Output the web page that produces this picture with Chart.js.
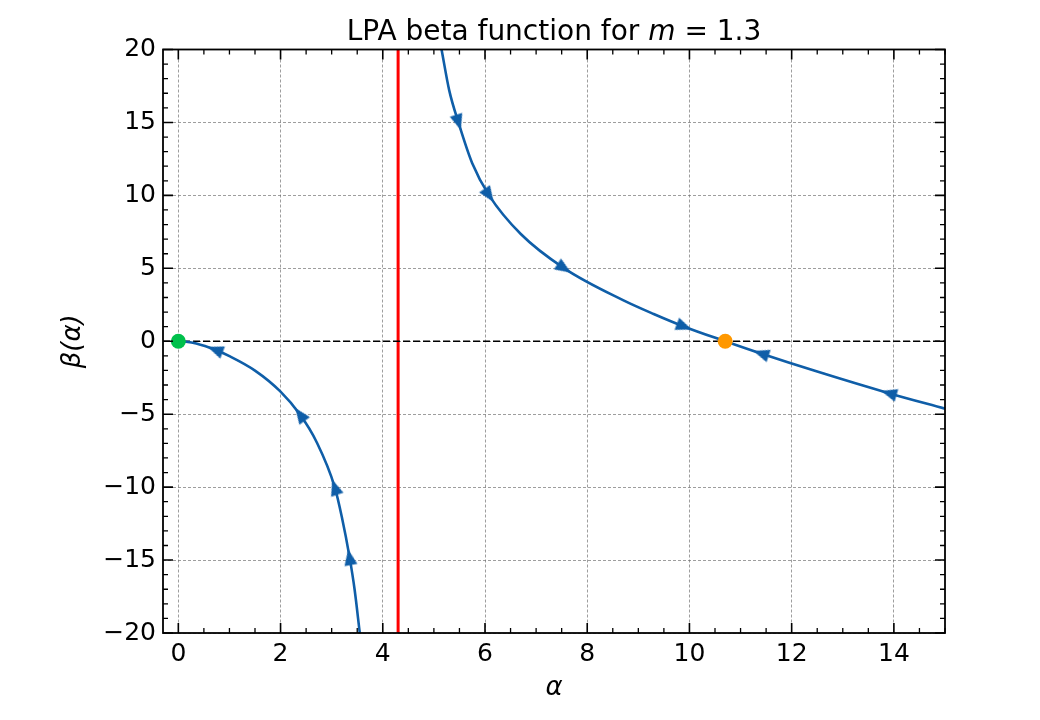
<!DOCTYPE html>
<html>
<head>
<meta charset="utf-8">
<script src="https://cdn.jsdelivr.net/npm/chart.js@4.4.0/dist/chart.umd.min.js"></script>
<style>
html, body { margin: 0; padding: 0; background: #fff; }
#wrap { width: 1040px; height: 720px; }
</style>
</head>
<body>
<div id="wrap"><canvas id="betaChart" width="1040" height="720"></canvas></div>
<script>
// axis ranges and tick labels
const xMin = -0.3, xMax = 15;
const yMin = -20, yMax = 20;
const xTicks = [0, 2, 4, 6, 8, 10, 12, 14];
const yTicks = [-20, -15, -10, -5, 0, 5, 10, 15, 20];

// branch below the pole (flows back to the Gaussian point)
const leftAlpha = [0, 0.15, 0.35, 0.72, 1.0, 1.5, 1.99, 2.38, 2.7, 3.06, 3.2, 3.35, 3.45, 3.55];
const leftBeta = [0, -0.03, -0.15, -0.58, -1.02, -2.01, -3.42, -5.02, -6.87, -10.0, -12.07, -14.8, -17.05, -20];

// branch above the pole (flows to the non trivial fixed point)
const rightAlpha = [5.15, 5.3, 5.48, 5.75, 6.08, 6.7, 7.55, 8.7, 9.3, 9.9, 10.7, 11.4, 12.5, 13.9, 15];
const rightBeta = [20, 17.2, 15, 12.2, 10, 7.35, 5, 2.82, 1.87, 1.0, 0, -0.84, -2.08, -3.56, -4.62];

// pole and fixed points
const poleAlpha = 4.3;
const gaussAlpha = 0, gaussBeta = 0;
const fixedAlpha = 10.7, fixedBeta = 0;

// flow arrows, sitting on curve points
const arrowAlpha = [0.72, 2.38, 3.06, 3.35, 5.48, 6.08, 7.55, 9.9, 11.4, 13.9];
const arrowBeta = [-0.58, -5.02, -10.0, -14.8, 15, 10, 5, 1.0, -0.84, -3.56];

const blue = '#0f5ea8';
const FONT = "'DejaVu Sans', sans-serif";

function toXY(xs, ys) {
    return xs.map(function(v, i) { return {x: v, y: ys[i]}; });
}

// arrow head drawn once on a small canvas, tip pointing up
function makeArrowHead() {
    const c = document.createElement('canvas');
    c.width = 14;
    c.height = 17;
    const g = c.getContext('2d');
    g.fillStyle = blue;
    g.beginPath();
    g.moveTo(7, 0.5);
    g.lineTo(13.5, 16.5);
    g.lineTo(0.5, 16.5);
    g.closePath();
    g.fill();
    return c;
}
const arrowHead = makeArrowHead();

// turn each arrow along the curve, in the direction of the flow
function arrowRotation(ctx) {
    const chart = ctx.chart;
    const xs = chart.scales.x, ys = chart.scales.y;
    if (!xs || !ys) return 0;
    const i = ctx.dataIndex;
    const a = arrowAlpha[i], b = arrowBeta[i];
    const bA = a < poleAlpha ? leftAlpha : rightAlpha;
    const bB = a < poleAlpha ? leftBeta : rightBeta;
    const j = bA.indexOf(a);
    const j0 = Math.max(j - 1, 0), j1 = Math.min(j + 1, bA.length - 1);
    let dx = xs.getPixelForValue(bA[j1]) - xs.getPixelForValue(bA[j0]);
    let dy = ys.getPixelForValue(bB[j1]) - ys.getPixelForValue(bB[j0]);
    if (b < 0) { dx = -dx; dy = -dy; }
    return Math.atan2(dx, -dy) * 180 / Math.PI;
}

function minusLabel(v) {
    return v < 0 ? '\u2212' + Math.abs(v) : String(v);
}

// frame, inward ticks on all sides and the title with italic m
const framePlugin = {
    id: 'frame',
    afterDraw(chart) {
        const ctx = chart.ctx;
        const a = chart.chartArea;
        const xs = chart.scales.x, ys = chart.scales.y;
        ctx.save();
        ctx.strokeStyle = '#000';
        ctx.lineWidth = 1.8;
        ctx.strokeRect(a.left, a.top, a.right - a.left, a.bottom - a.top);

        function xTick(v, len, w) {
            const px = xs.getPixelForValue(v);
            ctx.lineWidth = w;
            ctx.beginPath();
            ctx.moveTo(px, a.bottom); ctx.lineTo(px, a.bottom - len);
            ctx.moveTo(px, a.top); ctx.lineTo(px, a.top + len);
            ctx.stroke();
        }
        function yTick(v, len, w) {
            const py = ys.getPixelForValue(v);
            ctx.lineWidth = w;
            ctx.beginPath();
            ctx.moveTo(a.left, py); ctx.lineTo(a.left + len, py);
            ctx.moveTo(a.right, py); ctx.lineTo(a.right - len, py);
            ctx.stroke();
        }
        for (let v = 0; v <= xMax + 1e-9; v += 0.5) {
            if (xTicks.indexOf(v) < 0) xTick(v, 5, 1.3);
        }
        for (let v = yMin; v <= yMax; v += 1) {
            if (yTicks.indexOf(v) < 0) yTick(v, 5, 1.3);
        }
        xTicks.forEach(function(v) { xTick(v, 10, 1.6); });
        yTicks.forEach(function(v) { yTick(v, 10, 1.6); });

        // title
        const parts = [
            {t: 'LPA beta function for ', f: '28px ' + FONT},
            {t: 'm', f: 'italic 28px ' + FONT},
            {t: ' = 1.3', f: '28px ' + FONT}
        ];
        let total = 0;
        parts.forEach(function(p) { ctx.font = p.f; p.w = ctx.measureText(p.t).width; total += p.w; });
        let tx = (a.left + a.right) / 2 - total / 2;
        ctx.fillStyle = '#000';
        ctx.textBaseline = 'alphabetic';
        ctx.textAlign = 'left';
        parts.forEach(function(p) { ctx.font = p.f; ctx.fillText(p.t, tx, 39.5); tx += p.w; });
        ctx.restore();
    }
};

const config = {
    type: 'scatter',
    data: {
        datasets: [
            {
                label: 'fixed point',
                data: [{x: fixedAlpha, y: fixedBeta}],
                pointRadius: 7.5,
                pointBackgroundColor: '#ff9800',
                pointBorderWidth: 0
            },
            {
                label: 'gaussian',
                data: [{x: gaussAlpha, y: gaussBeta}],
                pointRadius: 7.5,
                pointBackgroundColor: '#00c04b',
                pointBorderWidth: 0
            },
            {
                label: 'flow',
                data: toXY(arrowAlpha, arrowBeta),
                pointStyle: arrowHead,
                rotation: arrowRotation,
                pointRadius: 8
            },
            {
                label: 'beta low',
                data: toXY(leftAlpha, leftBeta),
                showLine: true,
                borderColor: blue,
                borderWidth: 2.6,
                pointRadius: 0,
                cubicInterpolationMode: 'monotone'
            },
            {
                label: 'beta high',
                data: toXY(rightAlpha, rightBeta),
                showLine: true,
                borderColor: blue,
                borderWidth: 2.6,
                pointRadius: 0,
                cubicInterpolationMode: 'monotone'
            },
            {
                label: 'zero',
                data: [{x: xMin, y: 0}, {x: xMax, y: 0}],
                showLine: true,
                borderColor: '#000',
                borderWidth: 1.6,
                borderDash: [7, 3],
                pointRadius: 0
            },
            {
                label: 'pole',
                data: [{x: poleAlpha, y: yMin}, {x: poleAlpha, y: yMax}],
                showLine: true,
                borderColor: '#ff0000',
                borderWidth: 3,
                pointRadius: 0
            }
        ]
    },
    options: {
        responsive: false,
        animation: false,
        events: [],
        layout: { padding: { top: 49.5, right: 95, left: 0, bottom: 0 } },
        plugins: {
            legend: { display: false },
            tooltip: { enabled: false },
            title: { display: false }
        },
        scales: {
            x: {
                type: 'linear',
                min: xMin,
                max: xMax,
                afterBuildTicks: function(axis) { axis.ticks = xTicks.map(function(v) { return {value: v}; }); },
                afterFit: function(axis) { axis.height = 87; },
                grid: { color: 'rgba(110,110,110,0.75)', lineWidth: 0.9, drawTicks: false },
                border: { display: false, dash: [3, 2] },
                ticks: {
                    padding: 6,
                    color: '#000',
                    font: { family: FONT, size: 25 },
                    callback: minusLabel
                },
                title: {
                    display: true,
                    text: 'α',
                    color: '#000',
                    font: { family: FONT, size: 26, style: 'italic' },
                    padding: { top: 0, bottom: 16 }
                }
            },
            y: {
                type: 'linear',
                min: yMin,
                max: yMax,
                afterBuildTicks: function(axis) { axis.ticks = yTicks.map(function(v) { return {value: v}; }); },
                afterFit: function(axis) { axis.width = 163; },
                grid: { color: 'rgba(110,110,110,0.75)', lineWidth: 0.9, drawTicks: false },
                border: { display: false, dash: [3, 2] },
                ticks: {
                    padding: 7,
                    color: '#000',
                    font: { family: FONT, size: 25 },
                    callback: minusLabel
                },
                title: {
                    display: true,
                    text: 'β(α)',
                    color: '#000',
                    font: { family: FONT, size: 26, style: 'italic' },
                    padding: { top: 58, bottom: 0 }
                }
            }
        }
    },
    plugins: [framePlugin]
};

const betaChart = new Chart(document.getElementById('betaChart'), config);
</script>
</body>
</html>
